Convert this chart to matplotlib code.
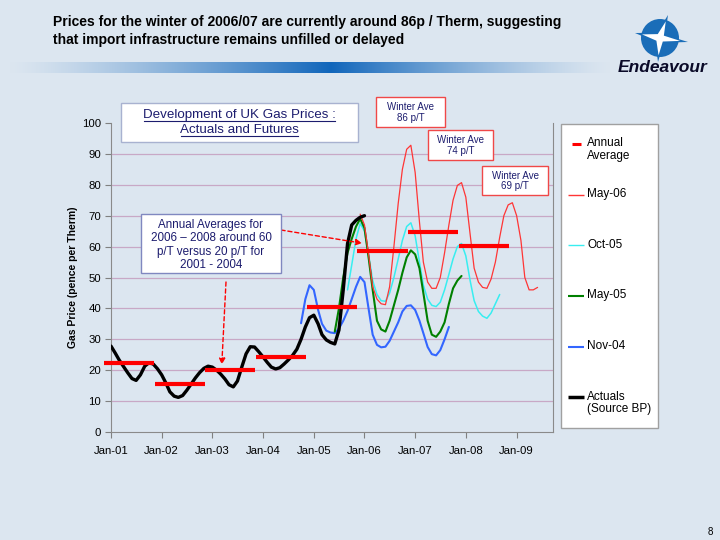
import numpy as np
import pandas as pd
import matplotlib
matplotlib.use('Agg')
import matplotlib.pyplot as plt
import matplotlib.dates as mdates
from matplotlib.patches import Rectangle, Circle, Polygon

plt.rcParams['font.family'] = ['Liberation Sans', 'DejaVu Sans']

# monthly values, first month given for each series
actual_start = '2001-01'
actual_vals = [27.8, 25.5, 23.3, 21.2, 19.2, 17.3, 16.7, 18.5, 21.3, 22.4, 22.0, 20.5,
               18.5, 15.8, 13.0, 11.6, 11.2, 11.8, 13.5, 15.5, 17.5, 19.2, 20.6, 21.3,
               21.0, 20.0, 18.8, 17.2, 15.3, 14.6, 16.5, 21.0, 25.3, 27.6, 27.5, 26.0,
               24.3, 22.5, 21.0, 20.4, 20.8, 22.0, 23.3, 24.8, 26.8, 30.0, 34.0, 37.0,
               37.8, 35.0, 31.5, 29.8, 29.0, 28.5, 33.0, 46.0, 61.0, 67.0, 68.5, 69.5,
               70.0]

nov04_start = '2004-10'
nov04_vals = [35.2, 43.0, 47.5, 46.0, 39.5, 35.0, 32.8, 32.2, 32.0, 33.5, 36.0, 39.2,
              43.0, 47.0, 50.2, 48.5, 39.5, 31.5, 28.2, 27.4, 27.6, 29.5, 32.5, 35.5,
              39.0, 40.8, 41.0, 39.5, 36.0, 32.0, 27.5, 25.2, 24.8, 26.5, 30.0, 34.0]

may05_start = '2005-06'
may05_vals = [32.5, 40.0, 50.0, 58.0, 62.5, 66.5, 69.0, 66.0, 56.0, 46.0, 36.0, 33.2,
              32.5, 36.0, 41.0, 46.0, 51.5, 56.5, 58.8, 57.5, 53.0, 45.0, 36.0, 31.5,
              30.8, 32.5, 35.5, 41.5, 46.5, 49.0, 50.5]

oct05_start = '2005-09'
oct05_vals = [46.0, 54.0, 62.5, 67.5, 65.0, 57.0, 49.0, 44.5, 42.5, 42.3, 45.0, 50.0,
              56.0, 62.0, 66.5, 67.7, 63.5, 55.0, 47.5, 43.0, 41.0, 40.6, 42.0, 46.0,
              51.0, 56.0, 60.0, 61.0, 57.0, 49.0, 42.5, 39.0, 37.5, 36.8, 38.5, 41.5,
              44.5]

may06_start = '2005-12'
may06_vals = [70.5, 67.0, 57.0, 47.0, 43.0, 41.5, 41.2, 47.0, 60.0, 74.0, 85.0, 91.5,
              92.8, 84.0, 68.0, 55.0, 48.5, 46.5, 46.5, 50.0, 58.0, 67.0, 75.0, 79.8,
              80.7, 76.0, 64.0, 53.0, 48.5, 46.8, 46.5, 49.5, 55.0, 63.0, 70.0, 73.5,
              74.2, 70.0, 62.0, 50.0, 46.0, 46.0, 46.8]

avg_years = [2001, 2002, 2003, 2004, 2005, 2006, 2007, 2008]
avg_vals = [22.2, 15.5, 20.1, 24.2, 40.6, 58.6, 64.6, 60.1]

xtick_years = list(range(2001, 2010))
xtick_labels = ['Jan-01', 'Jan-02', 'Jan-03', 'Jan-04', 'Jan-05', 'Jan-06', 'Jan-07', 'Jan-08', 'Jan-09']
legend_labels = ['Annual\nAverage', 'May-06', 'Oct-05', 'May-05', 'Nov-04', 'Actuals\n(Source BP)']

bg = '#DCE6F0'
navy = '#1C1C6E'
c_may06 = '#FF3535'
c_oct05 = '#38EEF0'
c_may05 = '#008000'
c_nov04 = '#3366FF'


def months(start, vals):
    return pd.date_range(start, periods=len(vals), freq='MS')


fig = plt.figure(figsize=(7.2, 5.4), dpi=100, facecolor=bg)

# ---- chart
ax = fig.add_axes([111 / 720, 1 - 432 / 540, 442 / 720, 309 / 540])
ax.set_facecolor('none')

kw = dict(solid_joinstyle='round', solid_capstyle='round')
ax.plot(months(nov04_start, nov04_vals), nov04_vals, color=c_nov04, lw=1.5, zorder=3, **kw)
ax.plot(months(oct05_start, oct05_vals), oct05_vals, color=c_oct05, lw=1.1, zorder=3, **kw)
ax.plot(months(may05_start, may05_vals), may05_vals, color=c_may05, lw=1.5, zorder=3, **kw)
ax.plot(months(may06_start, may06_vals), may06_vals, color=c_may06, lw=0.9, zorder=3, **kw)
ax.plot(months(actual_start, actual_vals), actual_vals, color='black', lw=2.4, zorder=4, **kw)

for yr, v in zip(avg_years, avg_vals):
    x0 = mdates.date2num(pd.Timestamp(f'{yr - 1}-11-11'))
    x1 = mdates.date2num(pd.Timestamp(f'{yr}-11-07'))
    ax.plot([x0, x1], [v, v], color='red', lw=3, solid_capstyle='butt', zorder=6, clip_on=False)

ax.set_xlim(mdates.date2num(pd.Timestamp('2001-01-01')), mdates.date2num(pd.Timestamp('2009-09-20')))
ax.set_ylim(0, 100)
ax.set_xticks([mdates.date2num(pd.Timestamp(f'{y}-01-01')) for y in xtick_years])
ax.set_xticklabels(xtick_labels)
ax.set_yticks(range(0, 101, 10))
ax.tick_params(direction='out', length=4, color='#808080', labelsize=8.2, pad=3)
ax.tick_params(axis='x', pad=6)
ax.grid(axis='y', color='#C8A8C6', lw=0.9)
ax.get_ygridlines()[-1].set_visible(False)
ax.get_ygridlines()[0].set_visible(False)
ax.set_axisbelow(True)
for s in ['left', 'bottom', 'right']:
    ax.spines[s].set_color('#8A8A8A')
ax.spines['top'].set_visible(False)
ax.set_ylabel('Gas Price (pence per Therm)', fontsize=7.5, fontweight='bold', labelpad=3)

arrow = dict(arrowstyle='-|>', color='red', lw=1, linestyle=(0, (3, 2)),
             mutation_scale=9, shrinkA=0, shrinkB=0)
ax.annotate('', xy=(mdates.date2num(pd.Timestamp('2005-12-15')), 61.1),
            xytext=(281, 540 - 230), textcoords='figure pixels',
            arrowprops=arrow, annotation_clip=False, zorder=7)
ax.annotate('', xy=(mdates.date2num(pd.Timestamp('2003-03-10')), 21.8),
            xytext=(226, 540 - 282), textcoords='figure pixels',
            arrowprops=arrow, annotation_clip=False, zorder=7)

# ---- overlay in pixel coordinates
ov = fig.add_axes([0, 0, 1, 1], zorder=10)
ov.patch.set_alpha(0)

# header band
xs = np.arange(9, 611)
w = np.where(xs < 330, (xs - 9) / (330 - 9), (610 - xs) / (610 - 330)) ** 1.3
bgc = np.array(matplotlib.colors.to_rgb(bg))
pk = np.array(matplotlib.colors.to_rgb('#1166BB'))
band = (bgc[None, :] * (1 - w[:, None]) + pk[None, :] * w[:, None])[None, :, :]
ov.imshow(band, extent=(9, 611, 73, 62), aspect='auto', interpolation='nearest')

ov.text(53, 22, 'Prices for the winter of 2006/07 are currently around 86p / Therm, suggesting',
        fontsize=10, fontweight='bold', va='center')
ov.text(53, 40, 'that import infrastructure remains unfilled or delayed',
        fontsize=10, fontweight='bold', va='center')

# logo
logo_blue = '#1A6DB8'
cx, cy = 660, 38
tips = [(668, 15), (688, 42), (658, 62), (635, 33)]


def star(scale, inner):
    pts = []
    for i, (tx, ty) in enumerate(tips):
        dx, dy = tx - cx, ty - cy
        pts.append((cx + dx * scale, cy + dy * scale))
        nx, ny = tips[(i + 1) % 4]
        a1 = np.exp(1j * np.arctan2(dy, dx))
        a2 = np.exp(1j * np.arctan2(ny - cy, nx - cx))
        am = np.angle(a1 + a2)
        pts.append((cx + inner * np.cos(am), cy + inner * np.sin(am)))
    return pts


ov.add_patch(Polygon(star(1.0, 6), closed=True, color=logo_blue, lw=0))
ov.add_patch(Circle((cx, cy), 19, color=logo_blue, lw=0))
ov.add_patch(Polygon(star(0.72, 4.5), closed=True, color='white', lw=0))
ov.text(663, 68, 'Endeavour', fontsize=12.5, fontweight='bold', style='italic',
        ha='center', va='center', color='#0A0A28')

# title box
ov.add_patch(Rectangle((121, 103), 237, 39, facecolor='white', edgecolor='#A8B2D0', lw=1))
t1 = ov.text(239.5, 115, 'Development of UK Gas Prices :', fontsize=9.6, color=navy,
             ha='center', va='center')
t2 = ov.text(239.5, 130, 'Actuals and Futures', fontsize=9.6, color=navy,
             ha='center', va='center')

# annual averages note
ov.add_patch(Rectangle((141, 214), 140, 59, facecolor='white', edgecolor='#8088C0', lw=1))
ov.text(211, 245, 'Annual Averages for\n2006 \u2013 2008 around 60\np/T versus 20 p/T for\n2001 - 2004',
        fontsize=8.4, color=navy, ha='center', va='center', multialignment='center',
        linespacing=1.15)

# winter boxes
for (x0, y0, x1, y1, txt) in [(376, 97, 445, 127, 'Winter Ave\n86 p/T'),
                              (428, 130, 493, 160, 'Winter Ave\n74 p/T'),
                              (482, 166, 548, 195, 'Winter Ave\n69 p/T')]:
    ov.add_patch(Rectangle((x0, y0), x1 - x0, y1 - y0, facecolor='white',
                           edgecolor='#F04848', lw=1))
    ov.text((x0 + x1) / 2, (y0 + y1) / 2 + 0.5, txt, fontsize=7, color=navy,
            ha='center', va='center', multialignment='center', linespacing=1.1)

# legend
ov.add_patch(Rectangle((561, 124), 97, 304, facecolor='white', edgecolor='#A0A0A0', lw=1))
swatches = [('red', 2.2, 572, 581, 144), (c_may06, 1.0, 568, 584, 194.5),
            (c_oct05, 1.0, 568, 584, 245), (c_may05, 1.5, 568, 584, 295.5),
            (c_nov04, 1.5, 568, 584, 346.5), ('black', 2.5, 568, 584, 397)]
for (col, lw, xa, xb, yy), lab in zip(swatches, legend_labels):
    ov.plot([xa, xb], [yy, yy], color=col, lw=lw, solid_capstyle='butt')
    ov.text(587, yy - 6.5, lab, fontsize=8.5, va='top', linespacing=1.05)

ov.text(710, 532, '8', fontsize=7, ha='center', va='center')

ov.set_xlim(0, 720)
ov.set_ylim(540, 0)
ov.axis('off')

# underline title box text
fig.canvas.draw()
r = fig.canvas.get_renderer()
for t in (t1, t2):
    bb = t.get_window_extent(r)
    yb = 540 - bb.y0 - 0.5
    ov.plot([bb.x0 + 1, bb.x1 - 1], [yb, yb], color=navy, lw=0.8)
ov.set_xlim(0, 720)
ov.set_ylim(540, 0)

fig.savefig('out.png', dpi=100, facecolor=bg)
